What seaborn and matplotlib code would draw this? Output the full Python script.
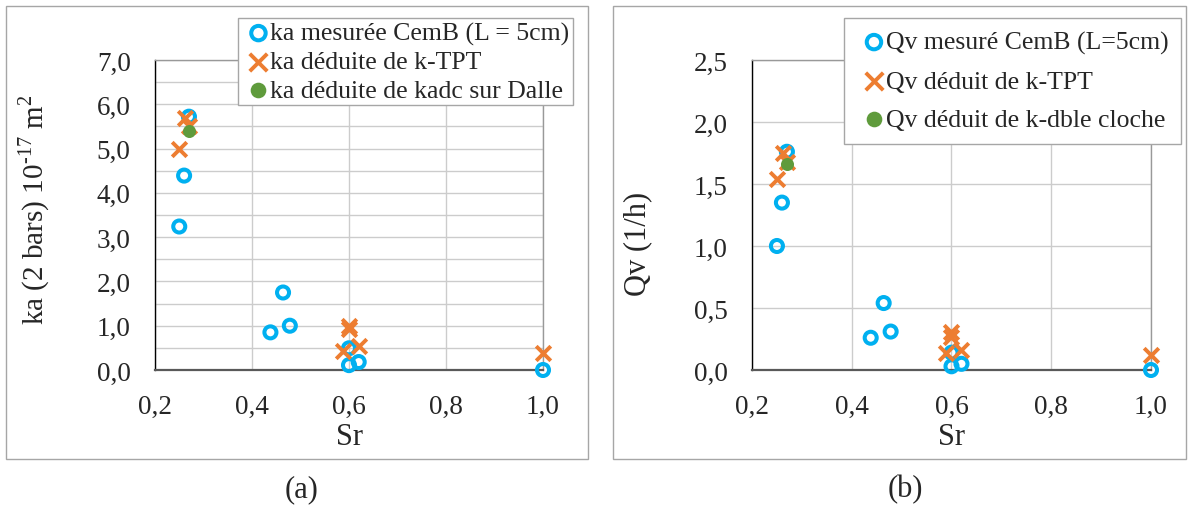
import matplotlib
matplotlib.use('Agg')
import matplotlib.pyplot as plt
import matplotlib.patches as mpatches
from matplotlib.ticker import FuncFormatter, MultipleLocator
import seaborn as sns

# Sr values (shared x)
sr_mes = [0.25, 0.26, 0.27, 0.438, 0.464, 0.478, 0.60, 0.60, 0.62, 1.00]
sr_tpt = [0.25, 0.262, 0.271, 0.588, 0.60, 0.60, 0.62, 1.00]
sr_third = [0.271]

# (a) ka (2 bars) 10^-17 m2
ka_mes = [3.24, 4.39, 5.72, 0.85, 1.75, 1.00, 0.49, 0.11, 0.18, 0.00]
ka_tpt = [5.00, 5.70, 5.50, 0.43, 1.00, 0.92, 0.54, 0.39]
ka_dalle = [5.40]

# (b) Qv (l/h)
qv_mes = [1.00, 1.35, 1.76, 0.26, 0.54, 0.31, 0.14, 0.03, 0.05, 0.00]
qv_tpt = [1.54, 1.75, 1.68, 0.14, 0.31, 0.27, 0.16, 0.12]
qv_cloche = [1.66]

labels_a = ['ka mesurée CemB (L = 5cm)', 'ka déduite de k-TPT', 'ka déduite de kadc sur Dalle']
labels_b = ['Qv mesuré CemB (L=5cm)', 'Qv déduit de k-TPT', 'Qv déduit de k-dble cloche']

COLORS = {
    'blue': '#00B0F0',
    'orange': '#ED7D31',
    'green': '#5F9B3C',
    'grid': '#cccccc',
    'border': '#a6a6a6',
}

sns.set_style('white')
plt.rcParams['font.family'] = ['Liberation Serif', 'DejaVu Serif']
plt.rcParams['mathtext.fontset'] = 'custom'
plt.rcParams['mathtext.rm'] = 'Liberation Serif'

W, H = 1190, 506
fig = plt.figure(figsize=(W / 100, H / 100), dpi=100)


def px_axes(x0, x1, y0, y1):
    return fig.add_axes([x0 / W, 1 - y1 / H, (x1 - x0) / W, (y1 - y0) / H])


def frame(x0, x1, y0, y1):
    fig.patches.append(mpatches.Rectangle((x0 / W, 1 - y1 / H), (x1 - x0) / W, (y1 - y0) / H,
                                          transform=fig.transFigure, fill=False,
                                          edgecolor=COLORS['border'], linewidth=1.0))


comma = FuncFormatter(lambda v, p: f'{v:.1f}'.replace('.', ','))


def draw_panel(ax, y_mes, y_tpt, y_third, labels, ymax, ystep, minor):
    sns.scatterplot(x=sr_mes, y=y_mes, ax=ax, marker='o', s=75, facecolor='none',
                    edgecolor=COLORS['blue'], linewidth=2.9, label=labels[0],
                    clip_on=False, zorder=3)
    sns.scatterplot(x=sr_tpt, y=y_tpt, ax=ax, marker='x', s=110, color=COLORS['orange'],
                    linewidth=2.8, label=labels[1], clip_on=False, zorder=4)
    sns.scatterplot(x=sr_third, y=y_third, ax=ax, marker='o', s=88, color=COLORS['green'],
                    linewidth=0, label=labels[2], clip_on=False, zorder=5)

    ax.set_xlim(0.2, 1.0)
    ax.set_ylim(0, ymax)
    ax.xaxis.set_major_locator(MultipleLocator(0.2))
    ax.yaxis.set_major_locator(MultipleLocator(ystep))
    if minor:
        ax.yaxis.set_minor_locator(MultipleLocator(minor))
    ax.xaxis.set_major_formatter(comma)
    ax.yaxis.set_major_formatter(comma)

    ax.grid(True, which='both', color=COLORS['grid'], linewidth=1.0)
    ax.set_axisbelow(True)
    ax.tick_params(axis='both', which='major', direction='inout', length=13, width=1,
                   color='black', labelsize=19.5)
    ax.tick_params(axis='y', which='major', pad=11)
    ax.tick_params(axis='x', which='major', pad=11)
    ax.tick_params(axis='y', which='minor', length=0)

    ax.spines['left'].set_color('black')
    ax.spines['left'].set_linewidth(1.0)
    ax.spines['bottom'].set_color('#595959')
    ax.spines['bottom'].set_linewidth(1.6)
    for s in ('top', 'right'):
        ax.spines[s].set_color('#999999')
        ax.spines[s].set_linewidth(1.0)

    ax.set_xlabel('Sr', fontsize=22, labelpad=2)


# (a)
frame(6, 588, 7, 460)
ax1 = px_axes(155, 543, 61, 371)
draw_panel(ax1, ka_mes, ka_tpt, ka_dalle, labels_a, 7.0, 1.0, 0.5)
ax1.set_ylabel('ka (2 bars) 10$^{\\mathregular{\u201017}}$ m$^{\\mathregular{2}}$', fontsize=21)
ax1.yaxis.set_label_coords(-0.265, 0.52)
leg1 = ax1.legend(loc='upper right', bbox_to_anchor=(573 / W, 1 - 19 / H),
                  bbox_transform=fig.transFigure, fontsize=18.5, frameon=True,
                  fancybox=False, edgecolor=COLORS['border'], framealpha=1,
                  borderpad=0.15, labelspacing=0.2, handletextpad=-0.2,
                  handlelength=1.3, borderaxespad=0, markerscale=1.2)
leg1.get_frame().set_linewidth(1.0)
leg1.set_zorder(10)

# (b)
frame(613, 1186, 7, 460)
ax2 = px_axes(752, 1151, 61, 371)
draw_panel(ax2, qv_mes, qv_tpt, qv_cloche, labels_b, 2.5, 0.5, None)
ax2.set_ylabel('Qv (1/h)', fontsize=22)
ax2.yaxis.set_label_coords(-0.25, 0.41)
leg2 = ax2.legend(loc='upper right', bbox_to_anchor=(1181 / W, 1 - 19 / H),
                  bbox_transform=fig.transFigure, fontsize=18.5, frameon=True,
                  fancybox=False, edgecolor=COLORS['border'], framealpha=1,
                  borderpad=0.5, labelspacing=0.6, handletextpad=-0.2,
                  handlelength=1.3, borderaxespad=0, markerscale=1.2)
leg2.get_frame().set_linewidth(1.0)
leg2.set_zorder(10)

fig.text(302 / W, 1 - 490 / H, '(a)', fontsize=22, ha='center', va='center')
fig.text(905 / W, 1 - 490 / H, '(b)', fontsize=22, ha='center', va='center')

fig.savefig('out.png', dpi=100, facecolor='white')
plt.close(fig)
